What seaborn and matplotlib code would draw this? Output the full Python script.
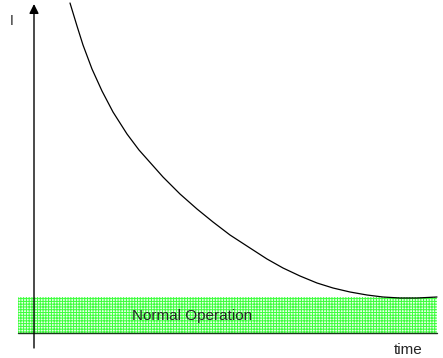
import matplotlib
matplotlib.use("Agg")
import matplotlib.pyplot as plt
import seaborn as sns
import pandas as pd

# Curve data (time vs current I)
time = [36, 43, 49, 58, 68, 79, 93, 105, 113, 129, 146, 163, 179, 196, 216,
        233, 249, 266, 283, 299, 316, 333, 349, 366, 383, 403]
current = [330, 307, 288, 264, 242, 221, 199, 183, 174, 156, 139, 124, 111, 98,
           85, 74, 65, 57, 50, 45, 41, 38, 36, 35, 35, 36]

# Normal-operation band
band_x = [-16, 403]
band_low = 0
band_high = 36

x_label = "time"
y_label = "I"
band_label = "Normal Operation"

sns.set_style("white")
plt.rcParams['font.family'] = ['Liberation Sans', 'DejaVu Sans']
plt.rcParams['hatch.linewidth'] = 0.7
plt.rcParams['hatch.color'] = '#3dff3d'

fig = plt.figure(figsize=(4.43, 3.58), dpi=100)
ax = fig.add_axes([0, 0, 1, 1])
ax.set_xlim(-34, 409)
ax.set_ylim(-25, 333)

# band
ax.fill_between(band_x, band_low, band_high, facecolor='#eaffea',
                edgecolor='#3dff3d', hatch='++++++', linewidth=0, zorder=1)
ax.plot(band_x, [band_low, band_low], color='#1a3a1a', lw=1.0, zorder=2)

# curve
df = pd.DataFrame({"time": time, "I": current})
sns.lineplot(data=df, x="time", y="I", ax=ax, color='black', lw=0.9,
             zorder=3, sort=False)
ax.set_xlabel("")
ax.set_ylabel("")
ax.axis('off')

# vertical axis with arrow
ax.annotate('', xy=(0, 329), xytext=(0, -15),
            arrowprops=dict(arrowstyle='-|>', color='black', lw=1.0,
                            mutation_scale=14, shrinkA=0, shrinkB=0),
            zorder=4)

ax.text(-22.5, 312, y_label, fontsize=10, ha='center', va='center')
ax.text(374, -17, x_label, fontsize=11, ha='center', va='center')
ax.text(98, 17, band_label, fontsize=11, ha='left', va='center', zorder=5)

fig.savefig("out.png", dpi=100)
